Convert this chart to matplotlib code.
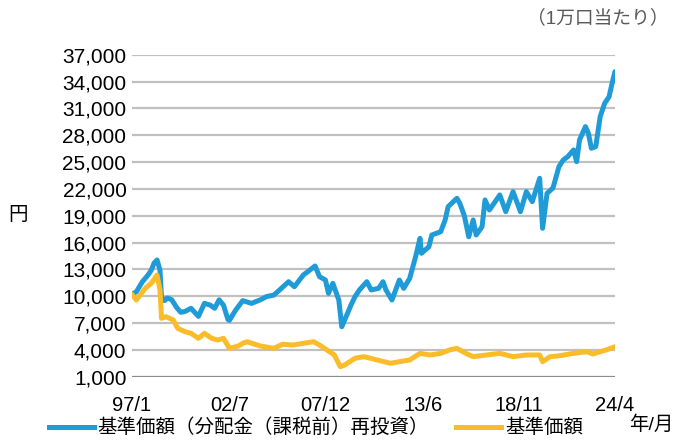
import numpy as np
import pandas as pd
import matplotlib
matplotlib.use("Agg")
import matplotlib.pyplot as plt
from matplotlib.lines import Line2D

plt.rcParams['font.family'] = ['Liberation Sans', 'Noto Sans CJK JP']

# ---------------------------------------------
# Data (month index from 1997/1, value in yen)

reinvest_months = [0, 3, 7, 11, 13, 15, 17, 19, 20, 22, 24, 27, 30, 33, 36, 40,
                   43, 45, 49, 53, 56, 59, 62, 65, 66, 70, 75, 81, 87, 91, 96,
                   100, 106, 110, 116, 119, 124, 127, 131, 133, 136, 140, 142,
                   146, 148, 151, 154, 159, 162, 167, 170, 172, 176, 181, 184,
                   188, 192, 195, 196, 201, 203, 209, 212, 214, 220, 222, 225,
                   228, 231, 233, 237, 239, 242, 249, 253, 258, 263, 267, 271,
                   276, 278, 281, 285, 289, 292, 295, 299, 301, 303, 307, 309,
                   311, 314, 317, 320, 323, 325, 327]
reinvest_values = [10200, 10500, 11600, 12400, 12900, 13700, 14050, 12900, 9900,
                   9500, 9800, 9600, 8800, 8200, 8300, 8650, 8100, 7750, 9200,
                   9000, 8650, 9600, 9000, 7400, 7300, 8400, 9500, 9200, 9600,
                   9950, 10130, 10700, 11620, 11060, 12370, 12740, 13380, 12180,
                   11810, 10320, 11440, 9576, 6590, 8100, 8900, 9950, 10700,
                   11620, 10700, 10880, 11620, 10700, 9576, 11810, 10880, 12000,
                   14420, 16470, 14800, 15530, 16840, 17210, 18520, 20000, 20950,
                   20380, 19000, 16650, 18520, 16840, 17770, 20760, 19640, 21320,
                   19450, 21690, 19450, 21690, 20570, 23180, 17590, 21500, 22100,
                   24480, 25230, 25600, 26350, 25040, 27470, 28960, 28210, 26540,
                   26720, 30070, 31570, 32300, 33800, 35100]

price_months = [0, 3, 9, 13, 17, 19, 20, 23, 28, 31, 36, 40, 45, 49, 54, 58, 62,
                66, 72, 75, 78, 87, 96, 102, 109, 116, 123, 127, 132, 137, 141,
                144, 151, 157, 166, 175, 181, 188, 195, 202, 209, 215, 220, 226,
                231, 240, 249, 258, 267, 276, 278, 283, 288, 299, 308, 312, 321,
                327]
price_values = [10200, 9576, 10880, 11440, 12370, 10700, 7530, 7710, 7340, 6410,
                6030, 5850, 5290, 5850, 5290, 5100, 5290, 4170, 4430, 4730, 4910,
                4430, 4170, 4620, 4540, 4730, 4910, 4540, 3985, 3430, 2120, 2310,
                3060, 3240, 2870, 2500, 2680, 2870, 3610, 3430, 3610, 3990, 4170,
                3610, 3240, 3430, 3610, 3240, 3430, 3430, 2680, 3240, 3310, 3610,
                3800, 3540, 3990, 4350]

tick_dates = ["1997-01", "2002-07", "2007-12", "2013-06", "2018-11", "2024-04"]
tick_labels = ["97/1", "02/7", "07/12", "13/6", "18/11", "24/4"]
y_ticks = list(range(1000, 37001, 3000))

label_reinvest = "基準価額（分配金（課税前）再投資）"
label_price = "基準価額"

BLUE = "#1f9bd7"
YELLOW = "#fbbc2a"


def to_dates(months):
    start = pd.Timestamp("1997-01-01")
    return [start + pd.DateOffset(months=int(m)) for m in months]


fig = plt.figure(figsize=(6.73, 4.40), dpi=100)
ax = fig.add_axes([132 / 673, 1 - 376.7 / 440, (615 - 132) / 673, (376.7 - 54.7) / 440])

# gridlines
for v in y_ticks[1:]:
    ax.axhline(v, color="#c0c0c0", lw=1.6, zorder=1)
ax.axhline(1000, color="#8c8c8c", lw=1.6, zorder=1)

ax.plot(to_dates(reinvest_months), reinvest_values, color=BLUE, lw=3.6,
        solid_joinstyle="round", solid_capstyle="round", zorder=3)
ax.plot(to_dates(price_months), price_values, color=YELLOW, lw=3.6,
        solid_joinstyle="round", solid_capstyle="round", zorder=3)

ax.set_xlim(pd.Timestamp("1997-01-01"), pd.Timestamp("2024-04-01"))
ax.set_ylim(1000, 37000)
ax.set_yticks(y_ticks)
ax.set_yticklabels([f"{v:,}" for v in y_ticks], fontsize=15)
ax.set_xticks([pd.Timestamp(d + "-01") for d in tick_dates])
ax.set_xticklabels(tick_labels, fontsize=14.5)
ax.tick_params(length=0, pad=4)
ax.tick_params(axis="x", pad=14)
for s in ax.spines.values():
    s.set_visible(False)

fig.text(18 / 673, 1 - 215 / 440, "円", fontsize=14, ha="center", va="center")
fig.text(669 / 673, 1 - 18 / 440, "（1万口当たり）", fontsize=13.5, color="#595959",
         ha="right", va="center")
fig.text(673 / 673, 1 - 425 / 440, "年/月", fontsize=14, ha="right", va="center")

handles = [Line2D([0], [0], color=BLUE, lw=3.6),
           Line2D([0], [0], color=YELLOW, lw=3.6)]
fig.legend(handles, [label_reinvest, label_price], ncol=2, frameon=False,
           loc="center left", bbox_to_anchor=(49 / 673, 1 - 428 / 440),
           borderpad=0, borderaxespad=0, handlelength=2.3, handletextpad=0.2,
           columnspacing=1.4, fontsize=14)

fig.savefig("out.png", dpi=100)
